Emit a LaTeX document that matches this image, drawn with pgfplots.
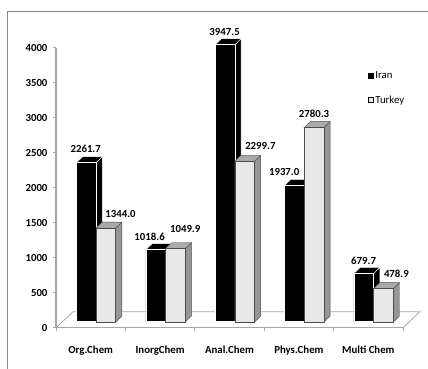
\documentclass[border=0pt]{standalone}
\usepackage{fontspec}
\setmainfont{Carlito}
\usepackage{pgfplots}
\usepackage{pgfplotstable}
\pgfplotsset{compat=1.18}

\definecolor{axisgray}{HTML}{A6A6A6}
\definecolor{framegray}{HTML}{8C8C8C}
\definecolor{turkeyfront}{HTML}{E8E8E8}
\definecolor{turkeytop}{HTML}{ABABAB}
\definecolor{turkeyside}{HTML}{969696}

% citation values per field
\pgfplotstableread{
g iran turkey
0 2261.7 1344.0
1 1018.6 1049.9
2 3947.5 2299.7
3 1937.0 2780.3
4 679.7 478.9
}\chemdata

% box depth in axis units, bar width in category units
\newcommand{\depthx}{0.0908}
\newcommand{\depthy}{85.7}
\newcommand{\barw}{0.2824}

% side and top faces of a box: group, value, offset of right edge, top colour, side colour, edge colour
\newcommand{\boxfaces}[6]{%
  \pgfmathsetmacro\xr{#1+#3}%
  \pgfmathsetmacro\xl{\xr-\barw}%
  \pgfmathsetmacro\xrd{\xr+\depthx}%
  \pgfmathsetmacro\xld{\xl+\depthx}%
  \pgfmathsetmacro\yt{#2+\depthy}%
  \edef\doit{\noexpand\addplot[forget plot,fill=#5,draw=#6,line width=0.4pt] coordinates {(\xr,0) (\xr,#2) (\xrd,\yt) (\xrd,\depthy)} -- cycle;
  \noexpand\addplot[forget plot,fill=#4,draw=#6,line width=0.4pt] coordinates {(\xl,#2) (\xr,#2) (\xrd,\yt) (\xld,\yt)} -- cycle;}%
  \doit
}
% value label: group, value, text shift, lift above the front face
\newcommand{\vlabel}[4]{\node[font=\fontsize{10.8}{12}\selectfont\bfseries,inner sep=0pt] at (axis cs:#1,#2) [xshift=#3pt,yshift=#4pt] {#2};}

\pgfplotsset{
  barlayer/.style={
    scale only axis, width=347pt, height=280pt, anchor=south west,
    xmin=-0.5, xmax=4.5, ymin=0, ymax=4000,
    hide axis, clip=false,
  },
}

\begin{document}
\begin{tikzpicture}[x=1pt,y=1pt]
\path[use as bounding box] (0,0) rectangle (428,369);

% outer frame: left and top edges only
\draw[framegray,line width=0.9pt] (7.5,0) -- (7.5,358) -- (428,358);

\begin{axis}[
  scale only axis, width=347pt, height=280pt, anchor=south west,
  at={(56pt,41.3pt)},
  xmin=-0.5, xmax=4.5, ymin=0, ymax=4000,
  clip=false,
  axis x line*=bottom, axis y line*=left,
  axis line style={axisgray,line width=1.1pt,-},
  tick style={axisgray,line width=0.7pt},
  tick align=outside, major tick length=3pt,
  ytick={0,500,...,4000},
  xtick={-0.5,0.5,1.5,2.5,3.5,4.5}, xticklabels={},
  extra x ticks={0,1,2,3,4},
  extra x tick labels={Org.Chem,InorgChem,Anal.Chem,Phys.Chem,Multi Chem},
  extra x tick style={major tick length=0pt,
    tick label style={yshift=-15pt}},
  tick label style={font=\fontsize{10.8}{12}\selectfont\bfseries,/pgf/number format/assume math mode=true,/pgf/number format/1000 sep={}},
  yticklabel style={xshift=-2pt},
]
% floor of the chart
\addplot[axisgray,line width=0.8pt] coordinates {(-0.5,0) (-0.255,228.6) (4.745,228.6) (4.5,0)};
\end{axis}

% Iran boxes
\begin{axis}[barlayer, at={(61.3pt,48pt)}]
\boxfaces{0}{2261.7}{0}{black}{black}{white}
\boxfaces{1}{1018.6}{0}{black}{black}{white}
\boxfaces{2}{3947.5}{0}{black}{black}{white}
\boxfaces{3}{1937.0}{0}{black}{black}{white}
\boxfaces{4}{679.7}{0}{black}{black}{white}
\addplot[ybar, bar width=19.6pt, bar shift=-9.8pt, fill=black, draw=white, line width=0.5pt, forget plot]
  table[x=g,y=iran] {\chemdata};
\end{axis}

% Turkey boxes, value labels and key
\begin{axis}[barlayer, at={(61.3pt,46.8pt)},
  legend style={at={(306pt,253pt)}, anchor=north west, draw=none, fill=none,
    font=\fontsize{10.8}{12}\selectfont, row sep=12pt,
    /tikz/every even column/.append style={column sep=2pt}, inner sep=0pt},
  legend cell align=left,
]
\boxfaces{0}{1344.0}{0.2824}{turkeytop}{turkeyside}{black!70}
\boxfaces{1}{1049.9}{0.2824}{turkeytop}{turkeyside}{black!70}
\boxfaces{2}{2299.7}{0.2824}{turkeytop}{turkeyside}{black!70}
\boxfaces{3}{2780.3}{0.2824}{turkeytop}{turkeyside}{black!70}
\boxfaces{4}{478.9}{0.2824}{turkeytop}{turkeyside}{black!70}
\addplot[ybar, bar width=19.6pt, bar shift=9.8pt, fill=turkeyfront, draw=black!70, line width=0.5pt, forget plot]
  table[x=g,y=turkey] {\chemdata};
\addlegendimage{legend image code/.code={\fill[black] (0.1cm,-0.08cm) rectangle (0.25cm,0.08cm);}}
\addlegendentry{Iran}
\addlegendimage{legend image code/.code={\draw[black,fill=turkeyfront,line width=0.8pt] (0.08cm,-0.09cm) rectangle (0.26cm,0.09cm);}}
\addlegendentry{Turkey}
\vlabel{0}{2261.7}{-10.3}{15}
\vlabel{0}{1344.0}{24.5}{14}
\vlabel{1}{1018.6}{-15.8}{14}
\vlabel{1}{1049.9}{19.8}{20}
\vlabel{2}{3947.5}{-10.2}{14}
\vlabel{2}{2299.7}{25.6}{15}
\vlabel{3}{1937.0}{-20}{15}
\vlabel{3}{2780.3}{9.8}{14}
\vlabel{4}{679.7}{-10}{14}
\vlabel{4}{478.9}{22.8}{15}
\end{axis}
\end{tikzpicture}
\end{document}
